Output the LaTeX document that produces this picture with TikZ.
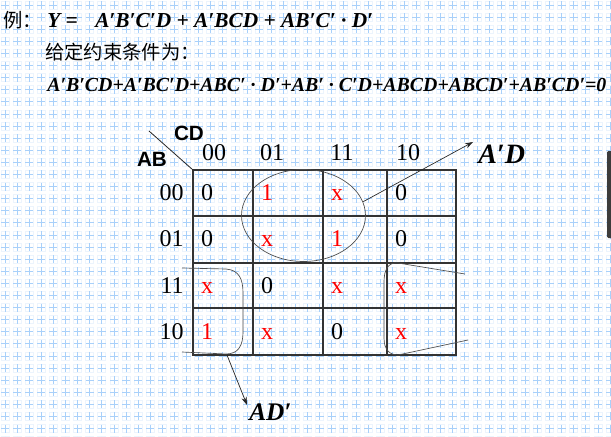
\documentclass[tikz,border=0pt]{standalone}
\usepackage{fontspec}
\setmainfont{Liberation Serif}
\setsansfont{Liberation Sans}
\newfontfamily\cjk{Noto Sans CJK SC}
\usetikzlibrary{arrows.meta,shapes.geometric}
\definecolor{gridblue}{RGB}{168,208,250}
\definecolor{gridhalo}{RGB}{236,244,253}
\definecolor{kred}{RGB}{255,0,0}
\definecolor{bargray}{RGB}{60,60,60}

\begin{document}
\begin{tikzpicture}[x=0.75pt, y=-0.75pt, every node/.style={inner sep=0pt},
	expr/.style={font=\bfseries\itshape\fontsize{16}{18}\selectfont, anchor=base west},
	cjktext/.style={font=\cjk\fontsize{14.5}{16}\selectfont, anchor=west},
	val/.style={font=\fontsize{18}{20}\selectfont, anchor=base},
	hdr/.style={font=\fontsize{18}{20}\selectfont, anchor=base east},
	dc/.style={val, text=kred},
	varlbl/.style={font=\sffamily\bfseries\fontsize{15.5}{17}\selectfont, anchor=base},
	termlbl/.style={font=\bfseries\itshape\fontsize{21}{24}\selectfont, anchor=base west},
	mapline/.style={draw=black!80, line width=0.9pt},
	ring/.style={draw=black!70, line width=0.5pt},
	pointer/.style={draw=black!85, line width=0.5pt, -{Stealth[length=6pt, width=4pt]}}]
	% Page and squared paper
	\useasboundingbox (0,0) rectangle (611,436);
	\fill[white] (0,0) rectangle (611,436);
	\foreach \gx in {0,...,50}{
		\foreach \gy in {0,...,36}{
			\draw[gridhalo, line width=0.6pt] ({5+12.1*\gx-4},{5+12.1*\gy-4}) rectangle ++(8,8);
			\draw[gridblue, line width=0.6pt] ({5+12.1*\gx-4},{5+12.1*\gy}) -- ++(8,0) ({5+12.1*\gx},{5+12.1*\gy-4}) -- ++(0,8);
		}
	}
	\fill[bargray, rounded corners=1pt] (607,151) rectangle (613,238);
	% Function and constraints
	\node (Example)		[cjktext]	at (3,20)	{例：};
	\node (Yeq)			[expr]		at (47,27)	{Y =};
	\node (Yexpr)		[expr]		at (95,27)	{A′B′C′D + A′BCD + AB′C′ · D′};
	\node (Given)		[cjktext]	at (45,52)	{给定约束条件为：};
	\node (DontCare)	[expr, font=\bfseries\itshape\fontsize{14.9}{17}\selectfont]	at (47,91)	{A′B′CD+A′BC′D+ABC′ · D′+AB′ · C′D+ABCD+ABCD′+AB′CD′=0};
	% Karnaugh map frame
	\coordinate (Corner) at (193,170);
	\coordinate (Slash) at (149,131);
	\draw[mapline] (Corner) rectangle (456,355);
	\draw[mapline] (253,170) -- (253,355) (323,170) -- (323,355) (387,170) -- (387,355);
	\draw[mapline] (193,216) -- (456,216) (193,263) -- (456,263) (193,308) -- (456,308);
	\draw[black!85, line width=0.6pt] (Corner) -- (Slash);
	\node (CDlbl)	[varlbl]	at (189,140)	{CD};
	\node (ABlbl)	[varlbl]	at (152,166.5)	{AB};
	% Column and row headings
	\node (Col00)	[val]	at (214,160)	{00};
	\node (Col01)	[val]	at (272,160)	{01};
	\node (Col11)	[val]	at (342,160)	{11};
	\node (Col10)	[val]	at (408,160)	{10};
	\node (Row00)	[hdr]	at (184,200.5)	{00};
	\node (Row01)	[hdr]	at (184,246.5)	{01};
	\node (Row11)	[hdr]	at (184,293)	{11};
	\node (Row10)	[hdr]	at (184,339)	{10};
	% Cell values
	\node (M00x00)	[val]	at (207,200.5)	{0};
	\node (M00x01)	[dc]	at (267,200.5)	{1};
	\node (M00x11)	[dc]	at (337,200.5)	{x};
	\node (M00x10)	[val]	at (401,200.5)	{0};
	\node (M01x00)	[val]	at (207,246.5)	{0};
	\node (M01x01)	[dc]	at (267,246.5)	{x};
	\node (M01x11)	[dc]	at (337,246.5)	{1};
	\node (M01x10)	[val]	at (401,246.5)	{0};
	\node (M11x00)	[dc]	at (207,293)	{x};
	\node (M11x01)	[val]	at (267,293)	{0};
	\node (M11x11)	[dc]	at (337,293)	{x};
	\node (M11x10)	[dc]	at (401,293)	{x};
	\node (M10x00)	[dc]	at (207,339)	{1};
	\node (M10x01)	[dc]	at (267,339)	{x};
	\node (M10x11)	[val]	at (337,339)	{0};
	\node (M10x10)	[dc]	at (401,339)	{x};
	% Groups and their terms
	\node (Loop)	[ring, ellipse, minimum width=93pt, minimum height=69pt]	at (303.5,215.5)	{};
	\draw[ring] (182,268) -- (226,269) .. controls (239,270) and (243,279) .. (243,293) -- (243,332) .. controls (243,346) and (238,354) .. (226,354) -- (182,352);
	\draw[ring] (465,274) -- (398,263) .. controls (388,262) and (384,270) .. (384,282) -- (384,338) .. controls (384,350) and (390,355) .. (398,355) -- (468,340);
	\coordinate (GroupL) at (227,355);
	\coordinate (TipA) at (473,142);
	\coordinate (TipB) at (247,405);
	\node (TermA)	[termlbl]	at (478,163)	{A′D};
	\node (TermB)	[termlbl, font=\bfseries\itshape\fontsize{19}{22}\selectfont]	at (249,420)	{AD′};
	\draw[pointer] (Loop.13) -- (TipA);
	\draw[pointer] (GroupL) -- (TipB);
\end{tikzpicture}
\end{document}
